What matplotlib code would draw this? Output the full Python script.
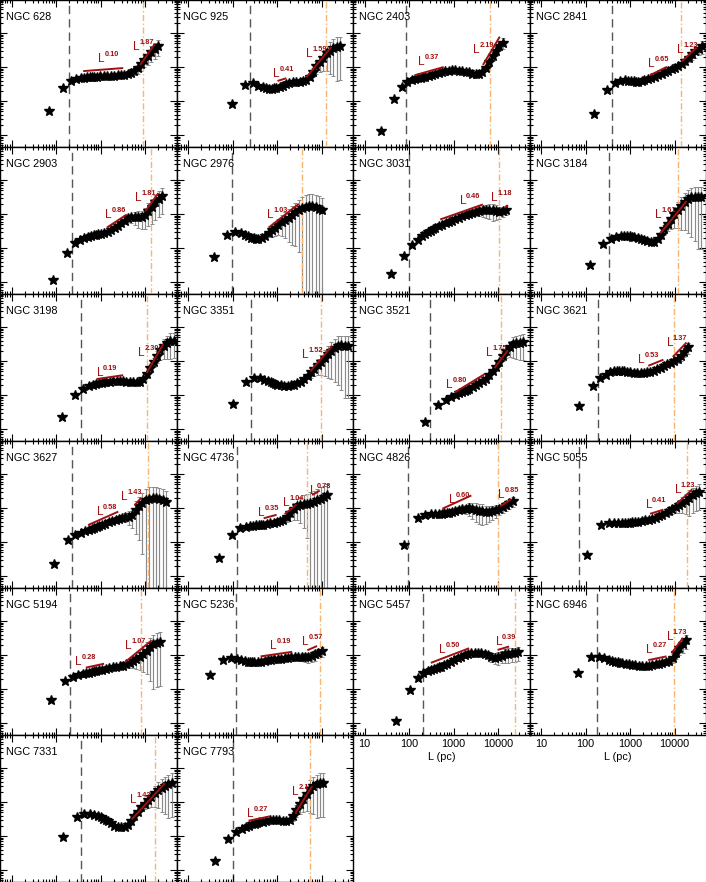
import numpy as np
import matplotlib
matplotlib.use("Agg")
import matplotlib.pyplot as plt
from matplotlib.ticker import LogLocator, NullFormatter, FuncFormatter

plt.rcParams['font.family'] = ['Liberation Sans', 'DejaVu Sans']

# ---------------- data ----------------
NAMES = ['NGC 628', 'NGC 925', 'NGC 2403', 'NGC 2841',
         'NGC 2903', 'NGC 2976', 'NGC 3031', 'NGC 3184',
         'NGC 3198', 'NGC 3351', 'NGC 3521', 'NGC 3621',
         'NGC 3627', 'NGC 4736', 'NGC 4826', 'NGC 5055',
         'NGC 5194', 'NGC 5236', 'NGC 5457', 'NGC 6946',
         'NGC 7331', 'NGC 7793']

# sample index n (L = n * dL) of the plotted points
MULT = [1, 2, 3, 4, 5, 6, 7, 8, 9, 10, 12, 14, 17, 20, 24, 28, 34, 40, 48, 57,
        68, 81, 96, 115, 137, 163, 194, 231, 275, 327, 389, 463, 551]

# spacing dL (pc) of each galaxy
DL = [71, 95, 23, 151, 87, 38, 39, 123, 135, 102, 224,
      72, 91, 49, 78, 110, 79, 31, 52, 66, 145, 40]

# black dashed line (pc)
L_DASH = [191, 245, 87, 389, 234, 98, 102, 331, 355, 263, 302,
          195, 234, 123, 95, 72, 204, 120, 209, 178, 363, 102]
# orange dash-dot line (pc)
L_ORANGE = [8900, 12900, 6760, 13800, 13500, 3550, 10500, 11700, 11000, 9800, 11700,
            9550, 11700, 4790, 10000, 19500, 7940, 9120, 24000, 9770, 16600, 5500]

# log10 of the plotted quantity
Y_628 = [0.71, 1.37, 1.59, 1.66, 1.68, 1.69, 1.70, 1.71, 1.71, 1.72, 1.72, 1.73, 1.73, 1.74, 1.74,
         1.75, 1.76, 1.77, 1.78, 1.80, 1.83, 1.88, 1.96, 2.08, 2.21, 2.33, 2.44, 2.54, 2.62]
Y_925 = [0.90, 1.46, 1.52, 1.45, 1.40, 1.37, 1.36, 1.36, 1.37, 1.38, 1.41, 1.45, 1.50, 1.53, 1.56,
         1.57, 1.57, 1.58, 1.62, 1.72, 1.86, 2.02, 2.16, 2.28, 2.40, 2.48, 2.55, 2.59, 2.61]
Y_2403 = [0.13, 1.05, 1.42, 1.57, 1.62, 1.65, 1.67, 1.69, 1.71, 1.72, 1.75, 1.77, 1.79, 1.82, 1.85,
          1.87, 1.89, 1.90, 1.90, 1.89, 1.88, 1.86, 1.84, 1.81, 1.79, 1.79, 1.85, 1.98, 2.15, 2.32,
          2.48, 2.62, 2.72]
Y_2841 = [0.62, 1.32, 1.54, 1.60, 1.61, 1.60, 1.59, 1.58, 1.57, 1.57, 1.58, 1.61, 1.64, 1.68, 1.72,
          1.76, 1.80, 1.84, 1.88, 1.93, 1.98, 2.03, 2.09, 2.17, 2.27, 2.37, 2.46, 2.54, 2.61]
Y_2903 = [0.06, 0.86, 1.16, 1.24, 1.29, 1.32, 1.35, 1.37, 1.39, 1.40, 1.42, 1.45, 1.48, 1.52, 1.58,
          1.64, 1.73, 1.81, 1.88, 1.90, 1.91, 1.90, 1.91, 1.97, 2.10, 2.22, 2.34, 2.45, 2.53]
Y_2976 = [0.75, 1.37, 1.47, 1.43, 1.38, 1.35, 1.31, 1.29, 1.28, 1.28, 1.30, 1.36, 1.44, 1.52, 1.60,
          1.68, 1.76, 1.82, 1.89, 1.97, 2.05, 2.12, 2.18, 2.22, 2.23, 2.23, 2.21, 2.16, 2.11]
Y_3031 = [0.23, 0.76, 1.08, 1.24, 1.34, 1.41, 1.47, 1.51, 1.55, 1.59, 1.64, 1.69, 1.74, 1.78, 1.81,
          1.85, 1.89, 1.93, 1.97, 2.01, 2.04, 2.07, 2.09, 2.11, 2.12, 2.12, 2.11, 2.09, 2.07, 2.09, 2.13]
Y_3184 = [0.49, 1.11, 1.27, 1.32, 1.34, 1.35, 1.35, 1.34, 1.33, 1.32, 1.29, 1.26, 1.23, 1.20, 1.18,
          1.19, 1.27, 1.38, 1.55, 1.72, 1.86, 2.00, 2.12, 2.24, 2.35, 2.43, 2.49, 2.51, 2.51, 2.50]
Y_3198 = [0.35, 0.99, 1.19, 1.26, 1.30, 1.33, 1.35, 1.36, 1.37, 1.38, 1.39, 1.40, 1.40, 1.40, 1.40,
          1.39, 1.38, 1.37, 1.37, 1.39, 1.46, 1.62, 1.80, 1.98, 2.16, 2.32, 2.45, 2.53, 2.58, 2.60]
Y_3351 = [0.75, 1.37, 1.51, 1.49, 1.45, 1.41, 1.37, 1.35, 1.33, 1.31, 1.29, 1.28, 1.28, 1.29, 1.31,
          1.34, 1.39, 1.46, 1.56, 1.67, 1.77, 1.88, 1.98, 2.09, 2.20, 2.30, 2.38, 2.44, 2.46, 2.45, 2.44]
Y_3521 = [0.21, 0.72, 0.86, 0.93, 0.99, 1.05, 1.09, 1.12, 1.16, 1.19, 1.24, 1.29, 1.35, 1.41, 1.48,
          1.58, 1.70, 1.83, 1.98, 2.15, 2.30, 2.42, 2.49, 2.53, 2.54, 2.55]
Y_3621 = [0.69, 1.26, 1.49, 1.60, 1.67, 1.71, 1.72, 1.72, 1.71, 1.71, 1.69, 1.67, 1.65, 1.64, 1.64,
          1.65, 1.67, 1.69, 1.72, 1.76, 1.80, 1.85, 1.90, 1.95, 2.00, 2.07, 2.16, 2.27, 2.40]
Y_3627 = [0.37, 1.06, 1.21, 1.28, 1.32, 1.35, 1.38, 1.41, 1.44, 1.46, 1.50, 1.54, 1.58, 1.62, 1.66,
          1.69, 1.72, 1.74, 1.75, 1.80, 1.94, 2.06, 2.16, 2.24, 2.28, 2.30, 2.29, 2.27, 2.23, 2.18]
Y_4736 = [0.52, 1.21, 1.40, 1.45, 1.47, 1.48, 1.49, 1.50, 1.50, 1.51, 1.53, 1.55, 1.57, 1.59, 1.62,
          1.66, 1.74, 1.85, 1.96, 2.05, 2.09, 2.12, 2.13, 2.15, 2.19, 2.23, 2.28, 2.33, 2.38]
Y_4826 = [0.91, 1.70, 1.80, 1.82, 1.82, 1.82, 1.83, 1.84, 1.85, 1.86, 1.88, 1.90, 1.93, 1.96, 1.98,
          1.99, 1.98, 1.95, 1.92, 1.90, 1.88, 1.88, 1.90, 1.93, 1.97, 2.02, 2.08, 2.14, 2.20]
Y_5055 = [0.62, 1.50, 1.55, 1.57, 1.57, 1.57, 1.57, 1.57, 1.57, 1.58, 1.59, 1.60, 1.62, 1.64, 1.66,
          1.69, 1.72, 1.76, 1.80, 1.85, 1.90, 1.96, 2.02, 2.08, 2.15, 2.22, 2.30, 2.37, 2.43, 2.47]
Y_5194 = [0.67, 1.23, 1.35, 1.40, 1.44, 1.46, 1.48, 1.50, 1.52, 1.53, 1.55, 1.57, 1.60, 1.62, 1.64,
          1.66, 1.67, 1.69, 1.73, 1.77, 1.83, 1.89, 1.95, 2.03, 2.13, 2.23, 2.31, 2.36, 2.38]
Y_5236 = [1.40, 1.86, 1.92, 1.89, 1.86, 1.83, 1.81, 1.80, 1.79, 1.79, 1.79, 1.80, 1.82, 1.84, 1.86,
          1.87, 1.88, 1.89, 1.90, 1.92, 1.93, 1.94, 1.95, 1.95, 1.94, 1.94, 1.97, 2.02, 2.07, 2.11]
Y_5457 = [0.07, 0.97, 1.33, 1.46, 1.52, 1.56, 1.59, 1.61, 1.64, 1.66, 1.71, 1.75, 1.80, 1.85, 1.90,
          1.95, 1.99, 2.03, 2.05, 2.06, 2.06, 2.05, 2.04, 2.00, 1.95, 1.92, 1.93, 1.98, 2.02, 2.04,
          2.05, 2.06, 2.08]
Y_6946 = [1.46, 1.95, 1.95, 1.90, 1.86, 1.83, 1.81, 1.80, 1.78, 1.77, 1.75, 1.74, 1.72, 1.70, 1.69,
          1.68, 1.68, 1.69, 1.71, 1.73, 1.75, 1.77, 1.79, 1.83, 1.92, 2.06, 2.22, 2.33, 2.43]
Y_7331 = [0.98, 1.55, 1.65, 1.65, 1.62, 1.59, 1.55, 1.51, 1.48, 1.45, 1.38, 1.31, 1.27, 1.26, 1.26,
          1.32, 1.44, 1.58, 1.71, 1.84, 1.95, 2.06, 2.16, 2.26, 2.35, 2.42, 2.48, 2.53, 2.56]
Y_7793 = [0.26, 0.90, 1.12, 1.21, 1.27, 1.31, 1.34, 1.36, 1.38, 1.40, 1.42, 1.44, 1.46, 1.47, 1.47,
          1.46, 1.44, 1.44, 1.48, 1.60, 1.78, 1.94, 2.10, 2.25, 2.38, 2.47, 2.52, 2.56, 2.57]

# relative (linear) uncertainties sigma / value
E_628 = [0.02, 0.02, 0.02, 0.02, 0.02, 0.02, 0.02, 0.02, 0.02, 0.02, 0.03, 0.03, 0.03, 0.04, 0.05,
         0.06, 0.07, 0.09, 0.12, 0.15, 0.20, 0.25, 0.30, 0.35, 0.40, 0.45, 0.50, 0.50, 0.50]
E_925 = [0.02, 0.02, 0.02, 0.02, 0.02, 0.02, 0.02, 0.02, 0.02, 0.02, 0.03, 0.04, 0.05, 0.06, 0.08,
         0.10, 0.12, 0.14, 0.16, 0.20, 0.30, 0.40, 0.50, 0.60, 0.70, 0.80, 0.85, 0.90, 0.90]
E_2403 = [0.02, 0.02, 0.02, 0.02, 0.02, 0.02, 0.02, 0.02, 0.02, 0.02, 0.03, 0.03, 0.03, 0.03, 0.03,
          0.03, 0.03, 0.03, 0.03, 0.03, 0.04, 0.05, 0.06, 0.08, 0.10, 0.12, 0.15, 0.20, 0.25, 0.30,
          0.30, 0.30, 0.35]
E_2841 = [0.02, 0.02, 0.02, 0.02, 0.02, 0.02, 0.02, 0.02, 0.02, 0.02, 0.03, 0.03, 0.03, 0.03, 0.03,
          0.03, 0.04, 0.05, 0.06, 0.08, 0.10, 0.12, 0.15, 0.20, 0.25, 0.30, 0.35, 0.35, 0.40]
E_2903 = [0.02, 0.02, 0.02, 0.02, 0.02, 0.02, 0.02, 0.02, 0.02, 0.02, 0.03, 0.04, 0.05, 0.06, 0.08,
          0.10, 0.15, 0.20, 0.25, 0.30, 0.40, 0.50, 0.55, 0.60, 0.65, 0.70, 0.70, 0.70, 0.70]
E_2976 = [0.02, 0.02, 0.02, 0.02, 0.02, 0.02, 0.02, 0.02, 0.02, 0.02, 0.10, 0.15, 0.25, 0.35, 0.42,
          0.50, 0.60, 0.70, 0.80, 0.87, 0.90, 0.94, 1.10, 1.20, 1.25, 1.30, 1.30, 1.35, 1.35]
E_3031 = [0.02, 0.02, 0.02, 0.02, 0.02, 0.02, 0.02, 0.02, 0.02, 0.02, 0.02, 0.02, 0.03, 0.04, 0.05,
          0.06, 0.08, 0.10, 0.12, 0.15, 0.20, 0.25, 0.30, 0.35, 0.40, 0.45, 0.50, 0.45, 0.40, 0.35, 0.30]
E_3184 = [0.02, 0.02, 0.02, 0.02, 0.02, 0.02, 0.02, 0.02, 0.02, 0.02, 0.02, 0.02, 0.03, 0.04, 0.05,
          0.08, 0.12, 0.20, 0.30, 0.40, 0.50, 0.60, 0.70, 0.80, 0.85, 0.90, 0.93, 0.95, 0.97, 0.97]
E_3198 = [0.02, 0.02, 0.02, 0.02, 0.02, 0.02, 0.02, 0.02, 0.02, 0.02, 0.02, 0.02, 0.02, 0.02, 0.03,
          0.04, 0.05, 0.06, 0.08, 0.10, 0.12, 0.15, 0.20, 0.30, 0.40, 0.50, 0.60, 0.65, 0.70, 0.70]
E_3351 = [0.02, 0.02, 0.02, 0.02, 0.02, 0.02, 0.02, 0.02, 0.02, 0.02, 0.02, 0.02, 0.03, 0.04, 0.05,
          0.07, 0.10, 0.15, 0.20, 0.30, 0.40, 0.50, 0.60, 0.70, 0.80, 0.85, 0.90, 0.93, 0.95, 0.97, 0.97]
E_3521 = [0.02, 0.02, 0.02, 0.02, 0.02, 0.02, 0.02, 0.02, 0.02, 0.02, 0.02, 0.02, 0.02, 0.02, 0.03,
          0.05, 0.08, 0.12, 0.20, 0.30, 0.40, 0.50, 0.60, 0.65, 0.70, 0.70]
E_3621 = [0.02, 0.02, 0.02, 0.02, 0.02, 0.02, 0.02, 0.02, 0.02, 0.02, 0.02, 0.02, 0.02, 0.02, 0.03,
          0.04, 0.05, 0.06, 0.07, 0.08, 0.10, 0.12, 0.15, 0.18, 0.20, 0.25, 0.30, 0.30, 0.35]
E_3627 = [0.02, 0.02, 0.02, 0.02, 0.02, 0.02, 0.02, 0.02, 0.02, 0.02, 0.03, 0.04, 0.05, 0.07, 0.10,
          0.15, 0.20, 0.30, 0.45, 0.60, 0.80, 0.90, 0.97, 1.10, 1.15, 1.15, 1.15, 1.10, 1.10, 1.05]
E_4736 = [0.02, 0.02, 0.02, 0.02, 0.02, 0.02, 0.02, 0.02, 0.02, 0.02, 0.04, 0.06, 0.08, 0.10, 0.15,
          0.20, 0.30, 0.40, 0.50, 0.60, 0.70, 0.80, 0.90, 1.05, 1.10, 1.15, 1.15, 1.10, 1.05]
E_4826 = [0.02, 0.02, 0.02, 0.02, 0.02, 0.02, 0.03, 0.04, 0.05, 0.06, 0.08, 0.10, 0.15, 0.20, 0.30,
          0.40, 0.50, 0.55, 0.60, 0.60, 0.55, 0.50, 0.45, 0.40, 0.35, 0.30, 0.30, 0.30, 0.30]
E_5055 = [0.02, 0.02, 0.02, 0.02, 0.02, 0.02, 0.02, 0.02, 0.02, 0.02, 0.02, 0.02, 0.03, 0.04, 0.05,
          0.06, 0.08, 0.10, 0.12, 0.15, 0.20, 0.25, 0.30, 0.40, 0.50, 0.60, 0.70, 0.70, 0.70, 0.70]
E_5194 = [0.02, 0.02, 0.02, 0.02, 0.02, 0.02, 0.02, 0.02, 0.02, 0.02, 0.02, 0.02, 0.03, 0.04, 0.05,
          0.07, 0.10, 0.15, 0.20, 0.30, 0.40, 0.50, 0.60, 0.70, 0.80, 0.90, 0.95, 0.95, 0.95]
E_5236 = [0.02, 0.02, 0.02, 0.02, 0.02, 0.02, 0.02, 0.02, 0.02, 0.02, 0.03, 0.03, 0.03, 0.03, 0.03,
          0.04, 0.05, 0.06, 0.08, 0.10, 0.13, 0.16, 0.20, 0.25, 0.30, 0.35, 0.35, 0.35, 0.30, 0.30]
E_5457 = [0.02, 0.02, 0.02, 0.02, 0.02, 0.02, 0.02, 0.02, 0.02, 0.02, 0.03, 0.03, 0.03, 0.03, 0.03,
          0.04, 0.05, 0.06, 0.08, 0.10, 0.13, 0.16, 0.20, 0.25, 0.30, 0.35, 0.40, 0.40, 0.45, 0.45,
          0.45, 0.45, 0.45]
E_6946 = [0.02, 0.02, 0.02, 0.02, 0.02, 0.02, 0.02, 0.02, 0.02, 0.02, 0.02, 0.02, 0.03, 0.04, 0.05,
          0.06, 0.07, 0.08, 0.10, 0.12, 0.15, 0.18, 0.20, 0.25, 0.30, 0.35, 0.40, 0.45, 0.45]
E_7331 = [0.02, 0.02, 0.02, 0.02, 0.02, 0.02, 0.02, 0.02, 0.02, 0.02, 0.02, 0.02, 0.03, 0.04, 0.05,
          0.06, 0.08, 0.10, 0.15, 0.20, 0.30, 0.40, 0.50, 0.60, 0.70, 0.80, 0.85, 0.90, 0.90]
E_7793 = [0.02, 0.02, 0.02, 0.02, 0.02, 0.02, 0.02, 0.02, 0.02, 0.02, 0.02, 0.02, 0.02, 0.02, 0.03,
          0.05, 0.08, 0.12, 0.20, 0.30, 0.40, 0.50, 0.60, 0.70, 0.80, 0.85, 0.90, 0.90, 0.90]

# power-law fits: (log L start, log L end, log y at start, slope, label, label log L, label log y)
F_628 = [(2.61, 3.51, 1.88, 0.10, '0.10', 2.95, 2.16), (3.89, 4.22, 2.06, 1.87, '1.87', 3.74, 2.50)]
F_925 = [(3.01, 3.21, 1.59, 0.41, '0.41', 2.91, 1.72), (3.66, 4.22, 1.70, 1.59, '1.59', 3.66, 2.30)]
F_2403 = [(2.13, 2.78, 1.76, 0.37, '0.37', 2.20, 2.06), (3.66, 4.04, 2.06, 2.19, '2.19', 3.44, 2.40)]
F_2841 = [(3.45, 3.83, 1.76, 0.65, '0.65', 3.41, 2.01), (4.16, 4.50, 2.16, 1.23, '1.23', 4.05, 2.40)]
F_2903 = [(3.14, 3.59, 1.60, 0.86, '0.86', 3.10, 1.89), (4.01, 4.30, 2.09, 1.81, '1.81', 3.77, 2.38)]
F_2976 = [(2.81, 3.49, 1.60, 1.03, '1.03', 2.78, 1.89)]
F_3031 = [(2.70, 3.66, 1.84, 0.46, '0.46', 3.14, 2.29), (4.15, 4.22, 2.18, 1.18, '1.18', 3.85, 2.38)]
F_3184 = [(3.68, 4.27, 1.43, 1.61, '1.61', 3.56, 1.89)]
F_3198 = [(2.91, 3.51, 1.47, 0.19, '0.19', 2.91, 1.55), (4.04, 4.41, 1.65, 2.30, '2.30', 3.85, 2.14)]
F_3351 = [(3.75, 4.24, 1.70, 1.52, '1.52', 3.56, 2.09)]
F_3521 = [(3.03, 3.70, 1.08, 0.80, '0.80', 2.84, 1.21), (3.92, 4.22, 1.79, 1.75, '1.75', 3.74, 2.14)]
F_3621 = [(3.41, 3.75, 1.86, 0.53, '0.53', 3.19, 1.94), (3.96, 4.27, 2.12, 1.37, '1.37', 3.82, 2.43)]
F_3627 = [(2.72, 3.40, 1.50, 0.58, '0.58', 2.91, 1.79), (3.77, 3.92, 2.09, 1.43, '1.43', 3.47, 2.24)]
F_4736 = [(2.70, 2.99, 1.70, 0.35, '0.35', 2.58, 1.76), (3.17, 3.44, 1.82, 1.04, '1.04', 3.14, 2.06),
          (3.79, 3.96, 2.38, 0.78, '0.78', 3.74, 2.40)]
F_4826 = [(2.75, 3.40, 1.98, 0.60, '0.60', 2.90, 2.15), (4.05, 4.30, 2.05, 0.85, '0.85', 4.00, 2.30)]
F_5055 = [(3.45, 3.75, 1.83, 0.41, '0.41', 3.35, 2.00), (4.05, 4.40, 2.12, 1.23, '1.23', 4.00, 2.45)]
F_5194 = [(2.67, 3.08, 1.63, 0.28, '0.28', 2.43, 1.70), (3.55, 4.15, 1.79, 1.07, '1.07', 3.55, 2.19)]
F_5236 = [(2.63, 3.34, 1.96, 0.19, '0.19', 2.85, 2.19), (3.68, 3.90, 2.14, 0.57, '0.57', 3.56, 2.29)]
F_5457 = [(2.49, 3.35, 1.77, 0.50, '0.50', 2.68, 2.05), (3.99, 4.25, 2.15, 0.39, '0.39', 3.95, 2.29)]
F_6946 = [(3.41, 3.82, 1.85, 0.27, '0.27', 3.37, 2.05), (3.93, 4.19, 2.05, 1.73, '1.73', 3.82, 2.44)]
F_7331 = [(3.70, 4.45, 1.49, 1.42, '1.42', 3.66, 1.96)]
F_7793 = [(2.36, 2.84, 1.45, 0.27, '0.27', 2.33, 1.55), (3.41, 3.79, 1.67, 2.10, '2.1', 3.34, 2.21)]

LOGY = [Y_628, Y_925, Y_2403, Y_2841, Y_2903, Y_2976, Y_3031, Y_3184, Y_3198, Y_3351, Y_3521,
        Y_3621, Y_3627, Y_4736, Y_4826, Y_5055, Y_5194, Y_5236, Y_5457, Y_6946, Y_7331, Y_7793]
ERRS = [E_628, E_925, E_2403, E_2841, E_2903, E_2976, E_3031, E_3184, E_3198, E_3351, E_3521,
        E_3621, E_3627, E_4736, E_4826, E_5055, E_5194, E_5236, E_5457, E_6946, E_7331, E_7793]
FITS = [F_628, F_925, F_2403, F_2841, F_2903, F_2976, F_3031, F_3184, F_3198, F_3351, F_3521,
        F_3621, F_3627, F_4736, F_4826, F_5055, F_5194, F_5236, F_5457, F_6946, F_7331, F_7793]

XTICKS = [10, 100, 1000, 10000]
XLIM = (5.5, 51000)
YLIM = (10 ** -0.35, 10 ** 3.97)

RED = '#A01010'
ORANGE = '#F9B470'

# ---------------- figure ----------------
fig = plt.figure(figsize=(7.06, 8.82), dpi=100)
W, H = 0.25, 1.0 / 6.0

for i, name in enumerate(NAMES):
    r, c = divmod(i, 4)
    ax = fig.add_axes([c * W, 1 - (r + 1) * H, W, H])
    ax.set_xscale('log')
    ax.set_yscale('log')

    y = 10 ** np.array(LOGY[i])
    x = np.array(MULT[:len(y)], dtype=float) * DL[i]
    err = np.array(ERRS[i]) * y
    lower = np.minimum(err, y * 0.99999)
    ax.errorbar(x, y, yerr=[lower, err], fmt='none', ecolor='#8a8a8a',
                elinewidth=0.85, capsize=1.4, capthick=0.7, zorder=2)

    ax.axvline(L_DASH[i], color='#555555', lw=1.0, dashes=(6, 3.6), zorder=1)
    ax.axvline(L_ORANGE[i], color=ORANGE, lw=1.0, dashes=(4.5, 1.8, 1, 1.8), zorder=3)

    ax.plot(x, y, ls='none', marker='*', ms=7.2, color='black', mec='black', zorder=4)

    for (l1, l2, ly1, p, lab, tx, ty) in FITS[i]:
        xa, xb = 10 ** l1, 10 ** l2
        ya = 10 ** ly1
        yb = ya * (xb / xa) ** p
        ax.plot([xa, xb], [ya, yb], color=RED, lw=1.4, zorder=5, solid_capstyle='butt')
        ax.text(10 ** tx, 10 ** ty, 'L', color=RED, fontsize=8.5, ha='left', va='baseline', zorder=6)
        ax.annotate(lab, xy=(10 ** tx, 10 ** ty), xytext=(4.6, 4.3), textcoords='offset points',
                    color=RED, fontsize=5.3, fontweight='bold', ha='left', va='baseline', zorder=6)

    ax.text(0.034, 0.862, name, transform=ax.transAxes, fontsize=7.8, ha='left', va='baseline')

    ax.set_xlim(*XLIM)
    ax.set_ylim(*YLIM)
    ax.xaxis.set_major_locator(LogLocator(base=10))
    ax.xaxis.set_minor_locator(LogLocator(base=10, subs=np.arange(2, 10)))
    ax.yaxis.set_major_locator(LogLocator(base=10))
    ax.yaxis.set_minor_locator(LogLocator(base=10, subs=np.arange(2, 10)))
    ax.xaxis.set_minor_formatter(NullFormatter())
    ax.yaxis.set_minor_formatter(NullFormatter())
    ax.tick_params(which='both', direction='in', top=True, right=True,
                   labelleft=False, labelbottom=False, width=0.8)
    ax.tick_params(which='major', length=5)
    ax.tick_params(which='minor', length=2.5)
    for s in ax.spines.values():
        s.set_linewidth(1.0)

    if i in (18, 19):
        ax.set_xticks(XTICKS)
        ax.xaxis.set_major_formatter(FuncFormatter(lambda v, pos: '%d' % round(v)))
        ax.tick_params(which='major', labelbottom=True, labelsize=7.8, pad=3)
        ax.set_xlabel('L (pc)', fontsize=7.8, labelpad=2)

fig.savefig('out.png', dpi=100)
